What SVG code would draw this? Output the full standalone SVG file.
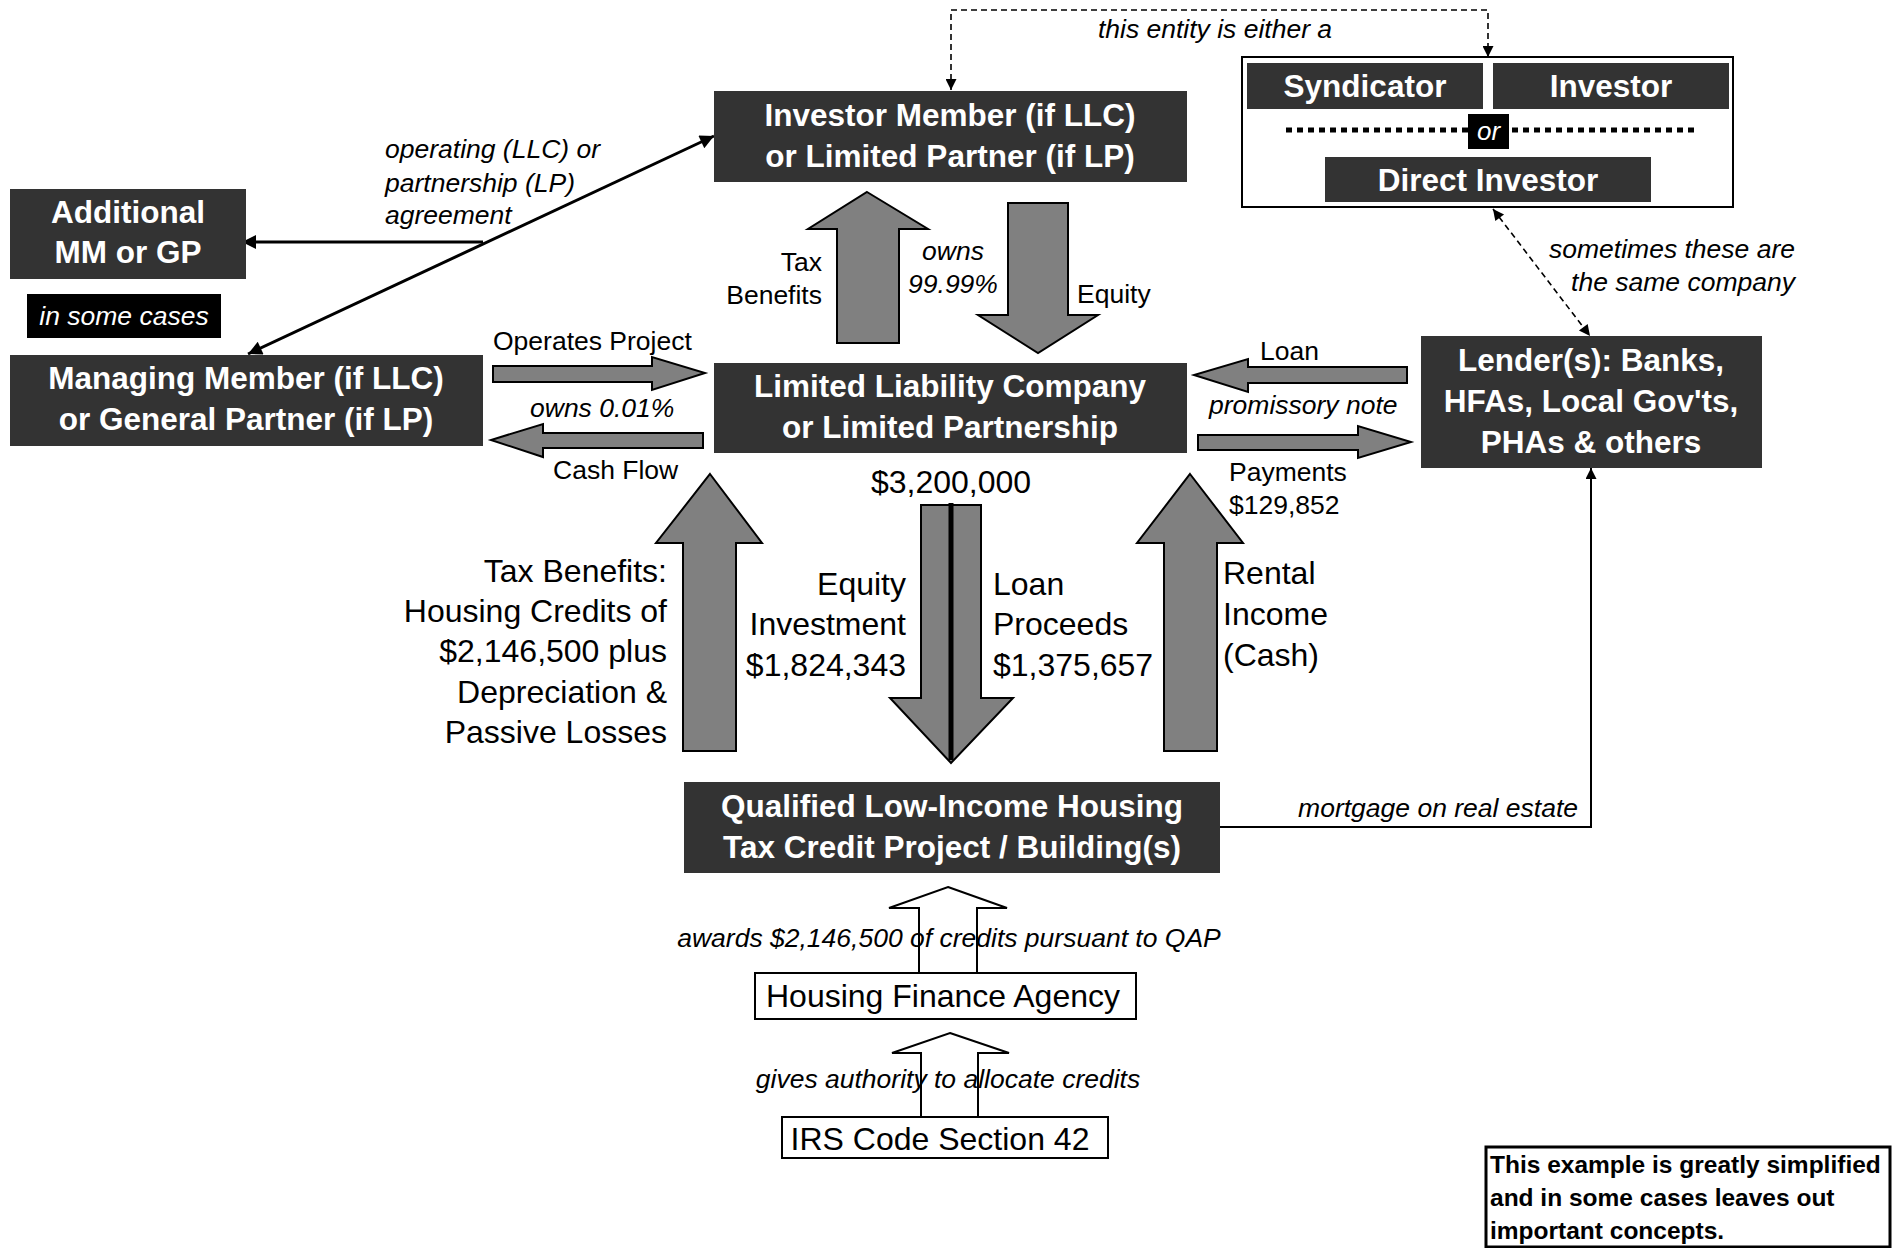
<svg xmlns="http://www.w3.org/2000/svg" width="1893" height="1248" viewBox="0 0 1893 1248">
<style>
text{font-family:"Liberation Sans",Arial,sans-serif;}
.box{fill:#333333;}
.blk{fill:#000000;}
.hd{fill:#ffffff;font-weight:bold;font-size:31.5px;text-anchor:middle;}
.lb{fill:#000000;font-size:26.5px;}
.it{fill:#000000;font-size:26.5px;font-style:italic;}
.big{fill:#000000;font-size:32px;}
.arw{fill:#808080;stroke:#000000;stroke-width:2;stroke-linejoin:miter;}
.oarw{fill:#ffffff;stroke:#000000;stroke-width:2;}
.ln{fill:none;stroke:#000000;stroke-width:3;}
.thin{fill:none;stroke:#000000;stroke-width:2;}
.dash{fill:none;stroke:#000000;stroke-width:1.6;stroke-dasharray:6,4;}
.mid{text-anchor:middle;}
.end{text-anchor:end;}
.disc{font-size:24.5px;font-weight:bold;fill:#000000;}
</style>
<defs>
<marker id="ah" viewBox="0 0 10 10" refX="10" refY="5" markerUnits="userSpaceOnUse" markerWidth="18" markerHeight="14" orient="auto-start-reverse">
<path d="M0,0 L10,5 L0,10 z" fill="#000000"/>
</marker>
<marker id="ahs" viewBox="0 0 10 10" refX="10" refY="5" markerUnits="userSpaceOnUse" markerWidth="15" markerHeight="11" orient="auto-start-reverse">
<path d="M0,0 L10,5 L0,10 z" fill="#000000"/>
</marker>
</defs>
<rect width="1893" height="1248" fill="#ffffff"/>

<g id="connectors">
<path class="dash" d="M951,90 L951,10 L1488,10 L1488,57" marker-start="url(#ahs)" marker-end="url(#ahs)"/>
<line class="dash" x1="1493" y1="209" x2="1590" y2="336" marker-start="url(#ahs)" marker-end="url(#ahs)"/>
<line class="ln" x1="248" y1="354" x2="714" y2="136" marker-start="url(#ah)" marker-end="url(#ah)"/>
<line class="ln" x1="483" y1="242" x2="242" y2="242" marker-end="url(#ah)"/>
<path class="thin" d="M1220,827 L1591,827 L1591,468" marker-end="url(#ahs)"/>

<polygon class="arw" points="867,192 928,229 899,229 899,343 837,343 837,229 808,229"/>
<polygon class="arw" points="1008,203 1068,203 1068,315 1098,315 1038,353 978,315 1008,315"/>
<polygon class="arw" points="493,366 652,366 652,357 705,373 652,390 652,382 493,382"/>
<polygon class="arw" points="703,433 543,433 543,424 491,440 543,457 543,448 703,448"/>
<polygon class="arw" points="1407,367 1248,367 1248,359 1194,375 1248,392 1248,383 1407,383"/>
<polygon class="arw" points="1198,435 1358,435 1358,426 1411,442 1358,458 1358,450 1198,450"/>
<polygon class="arw" points="710,474 762,543 736,543 736,751 683,751 683,543 656,543"/>
<polygon class="arw" points="921,505 981,505 981,698 1013,698 951,763 890,698 921,698"/>
<line x1="951" y1="503" x2="951" y2="760" stroke="#000000" stroke-width="5"/>
<polygon class="arw" points="1190,474 1243,543 1217,543 1217,751 1164,751 1164,543 1137,543"/>
<polygon class="oarw" points="948,887 1007,908 977,908 977,973 919,973 919,908 889,908"/>
<polygon class="oarw" points="950,1033 1009,1053 978,1053 978,1117 921,1117 921,1053 892,1053"/>

<text class="it mid" x="1215" y="38">this entity is either a</text>
<text class="it end" x="1795" y="258">sometimes these are</text>
<text class="it end" x="1795" y="291">the same company</text>
<text class="it" x="385" y="158">operating (LLC) or</text>
<text class="it" x="385" y="192">partnership (LP)</text>
<text class="it" x="385" y="224">agreement</text>
<text class="lb" x="493" y="350">Operates Project</text>
<text class="it" x="530" y="417">owns 0.01%</text>
<text class="lb" x="553" y="479">Cash Flow</text>
<text class="lb end" x="822" y="271">Tax</text>
<text class="lb end" x="822" y="304">Benefits</text>
<text class="it mid" x="953" y="260">owns</text>
<text class="it mid" x="953" y="293">99.99%</text>
<text class="lb" x="1077" y="303">Equity</text>
<text class="lb" x="1260" y="360">Loan</text>
<text class="it" x="1209" y="414">promissory note</text>
<text class="lb" x="1229" y="481">Payments</text>
<text class="lb" x="1229" y="514">$129,852</text>
<text class="big mid" x="951" y="493">$3,200,000</text>
<text class="big end" x="667" y="582">Tax Benefits:</text>
<text class="big end" x="667" y="622">Housing Credits of</text>
<text class="big end" x="667" y="662">$2,146,500 plus</text>
<text class="big end" x="667" y="703">Depreciation &amp;</text>
<text class="big end" x="667" y="743">Passive Losses</text>
<text class="big end" x="906" y="595">Equity</text>
<text class="big end" x="906" y="635">Investment</text>
<text class="big end" x="906" y="676">$1,824,343</text>
<text class="big" x="993" y="595">Loan</text>
<text class="big" x="993" y="635">Proceeds</text>
<text class="big" x="993" y="676">$1,375,657</text>
<text class="big" x="1223" y="584">Rental</text>
<text class="big" x="1223" y="625">Income</text>
<text class="big" x="1223" y="666">(Cash)</text>
<text class="it end" x="1578" y="817">mortgage on real estate</text>
<text class="it mid" x="949" y="947">awards $2,146,500 of credits pursuant to QAP</text>
<text class="it mid" x="948" y="1088">gives authority to allocate credits</text>
</g>

<g id="investor-member">
<rect class="box" x="714" y="91" width="473" height="91"/>
<text class="hd" x="950" y="126">Investor Member (if LLC)</text>
<text class="hd" x="950" y="167">or Limited Partner (if LP)</text>
</g>

<g id="entity-group">
<rect x="1242" y="57" width="491" height="150" fill="#ffffff" stroke="#000000" stroke-width="2"/>
<g id="syndicator">
<rect class="box" x="1247" y="63" width="236" height="46"/>
<text class="hd" x="1365" y="97">Syndicator</text>
</g>
<g id="investor">
<rect class="box" x="1493" y="63" width="236" height="46"/>
<text class="hd" x="1611" y="97">Investor</text>
</g>
<line x1="1286" y1="130" x2="1468" y2="130" stroke="#000000" stroke-width="5" stroke-dasharray="6,5"/>
<line x1="1512" y1="130" x2="1698" y2="130" stroke="#000000" stroke-width="5" stroke-dasharray="6,5"/>
<rect class="blk" x="1468" y="114" width="41" height="35"/>
<text x="1488.5" y="140" fill="#ffffff" font-size="26" font-style="italic" text-anchor="middle">or</text>
<g id="direct-investor">
<rect class="box" x="1325" y="157" width="326" height="45"/>
<text class="hd" x="1488" y="191">Direct Investor</text>
</g>
</g>

<g id="additional-mm">
<rect class="box" x="10" y="189" width="236" height="90"/>
<text class="hd" x="128" y="223">Additional</text>
<text class="hd" x="128" y="263">MM or GP</text>
</g>

<g id="in-some-cases">
<rect class="blk" x="27" y="294" width="194" height="44"/>
<text x="124" y="325" fill="#ffffff" font-size="26.5" font-style="italic" text-anchor="middle">in some cases</text>
</g>

<g id="managing-member">
<rect class="box" x="10" y="355" width="473" height="91"/>
<text class="hd" x="246" y="389">Managing Member (if LLC)</text>
<text class="hd" x="246" y="430">or General Partner (if LP)</text>
</g>

<g id="llc">
<rect class="box" x="714" y="363" width="473" height="90"/>
<text class="hd" x="950" y="397">Limited Liability Company</text>
<text class="hd" x="950" y="438">or Limited Partnership</text>
</g>

<g id="lender">
<rect class="box" x="1421" y="336" width="341" height="132"/>
<text class="hd" x="1591" y="371">Lender(s): Banks,</text>
<text class="hd" x="1591" y="412">HFAs, Local Gov'ts,</text>
<text class="hd" x="1591" y="453">PHAs &amp; others</text>
</g>

<g id="project">
<rect class="box" x="684" y="782" width="536" height="91"/>
<text class="hd" x="952" y="817">Qualified Low-Income Housing</text>
<text class="hd" x="952" y="858">Tax Credit Project / Building(s)</text>
</g>

<g id="hfa">
<rect x="755" y="973" width="381" height="46" fill="#ffffff" stroke="#000000" stroke-width="2"/>
<text class="big mid" x="943" y="1007">Housing Finance Agency</text>
</g>

<g id="irs">
<rect x="782" y="1117" width="326" height="41" fill="#ffffff" stroke="#000000" stroke-width="2"/>
<text class="big mid" x="940" y="1150">IRS Code Section 42</text>
</g>

<g id="disclaimer">
<rect x="1486" y="1147" width="404" height="100" fill="#ffffff" stroke="#000000" stroke-width="3"/>
<text class="disc" x="1490" y="1173">This example is greatly simplified</text>
<text class="disc" x="1490" y="1206">and in some cases leaves out</text>
<text class="disc" x="1490" y="1239">important concepts.</text>
</g>
</svg>
